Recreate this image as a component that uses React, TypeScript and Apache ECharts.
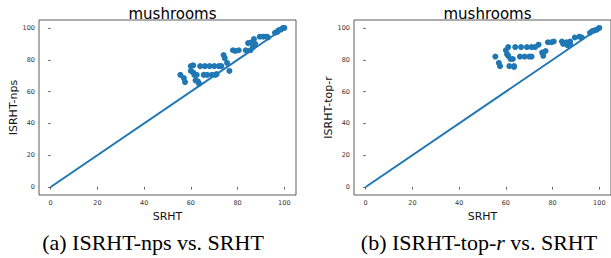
import React, { useEffect, useRef } from "react";
import * as echarts from "echarts";

const tickValues = [0, 20, 40, 60, 80, 100];
const diagonal = [[0, 0], [100, 100]];

const npsPoints = [
  [55.5, 70.5], [57, 68.5], [57.5, 66],
  [60, 76], [60, 73], [61, 76.5], [61, 72], [61.5, 70.5], [62, 67], [63, 66.5], [63.5, 65], [62.5, 70.5],
  [64, 76], [66, 76], [68, 76], [70, 76], [72, 76], [73, 76],
  [65.5, 70.5], [67, 70.5], [69, 70.5], [70.5, 70.5], [71, 71],
  [74, 83], [74.5, 81], [75.5, 78], [76.5, 73],
  [78, 86], [79, 85.5], [80.5, 86],
  [83.5, 86], [84.5, 90.5], [85.5, 86], [86, 91], [86.5, 88], [87, 93], [87.5, 90],
  [89.5, 94.5], [91, 94.5], [92.5, 94.5], [93, 94],
  [96, 97], [97, 97.5], [97.5, 98.5], [98.5, 99], [99.5, 100], [100, 100],
];

const topRPoints = [
  [55.5, 82], [57, 78], [57.5, 76],
  [60, 86], [60.5, 83.5], [61, 88], [61, 82.5], [62, 80.5], [61.5, 76], [63, 80.5], [63.5, 76], [63.5, 75.5],
  [64, 88], [66.5, 88], [69, 88], [71, 88], [72.5, 88], [74, 89.5],
  [66, 82], [68, 82], [70, 82], [71, 82],
  [75.5, 84.5], [76, 82.5], [77, 85.5],
  [78, 91], [79.5, 91], [80.5, 91.5],
  [84, 91.5], [84.5, 90], [86, 91], [86.5, 89], [87.5, 91.5], [87.5, 90],
  [89.5, 94], [91.5, 94.5], [92.5, 94],
  [96, 97], [97, 98], [98, 98.5], [99, 99], [100, 100],
];

const titles = ["mushrooms", "mushrooms"];
const xNames = ["SRHT", "SRHT"];
const yNames = ["ISRHT-nps", "ISRHT-top-r"];

const BLUE = "#1f77b4";
const SANS = "DejaVu Sans";
const SERIF = "Liberation Serif";

function axisCommon(name: string, isX: boolean, gridIndex: number) {
  return {
    type: "value",
    gridIndex,
    min: -5,
    max: 105,
    name,
    nameLocation: "middle",
    nameGap: isX ? 12 : 19,
    nameTextStyle: { fontFamily: SANS, fontSize: 11, color: "#111" },
    axisLine: { show: false },
    splitLine: { show: false },
    axisTick: {
      show: true,
      customValues: tickValues,
      length: 2.5,
      inside: false,
      lineStyle: { color: "#333", width: 0.8 },
    },
    axisLabel: {
      customValues: tickValues,
      fontFamily: SANS,
      fontSize: 6.5,
      color: "#333",
      margin: 4,
    },
  };
}

export default function App() {
  const ref = useRef<HTMLDivElement>(null);
  useEffect(() => {
    if (!ref.current) return;
    const chart = echarts.init(ref.current, undefined, { renderer: "svg" });
    const grids = [
      { left: 39, top: 20, width: 257, height: 175 },
      { left: 354, top: 20, width: 257, height: 175 },
    ];
    chart.setOption({
      animation: false,
      backgroundColor: "#fff",
      title: [
        { text: titles[0], left: 167.5, top: 1, textAlign: "center", textStyle: { fontFamily: SANS, fontSize: 15, fontWeight: "normal", color: "#000" } },
        { text: titles[1], left: 482.5, top: 1, textAlign: "center", textStyle: { fontFamily: SANS, fontSize: 15, fontWeight: "normal", color: "#000" } },
        {
          text: "(a) ISRHT-nps vs. SRHT",
          left: 148,
          top: 226,
          textAlign: "center",
          textStyle: { fontFamily: SERIF, fontSize: 22, fontWeight: "normal", color: "#000" },
        },
        {
          text: "{n|(b) ISRHT-top-}{i|r}{n| vs. SRHT}",
          left: 474,
          top: 226,
          textAlign: "center",
          textStyle: {
            fontFamily: SERIF,
            fontSize: 22,
            fontWeight: "normal",
            color: "#000",
            rich: {
              n: { fontFamily: SERIF, fontSize: 22, color: "#000" },
              i: { fontFamily: SERIF, fontSize: 22, color: "#000", fontStyle: "italic" },
            },
          },
        },
      ],
      grid: grids.map((g) => ({ ...g, show: true, borderColor: "#333", borderWidth: 0.8, backgroundColor: "transparent" })),
      xAxis: [axisCommon(xNames[0], true, 0), axisCommon(xNames[1], true, 1)],
      yAxis: [axisCommon(yNames[0], false, 0), axisCommon(yNames[1], false, 1)],
      series: [
        { type: "line", xAxisIndex: 0, yAxisIndex: 0, data: diagonal, showSymbol: false, symbol: "none", lineStyle: { color: BLUE, width: 2 } },
        { type: "scatter", xAxisIndex: 0, yAxisIndex: 0, data: npsPoints, symbolSize: 6, itemStyle: { color: BLUE, opacity: 1 } },
        { type: "line", xAxisIndex: 1, yAxisIndex: 1, data: diagonal, showSymbol: false, symbol: "none", lineStyle: { color: BLUE, width: 2 } },
        { type: "scatter", xAxisIndex: 1, yAxisIndex: 1, data: topRPoints, symbolSize: 6, itemStyle: { color: BLUE, opacity: 1 } },
      ],
    });
    return () => chart.dispose();
  }, []);
  return (
    <div
      ref={ref}
      style={{ position: "absolute", left: 0, top: 0, width: 611, height: 258, background: "#fff" }}
    />
  );
}
